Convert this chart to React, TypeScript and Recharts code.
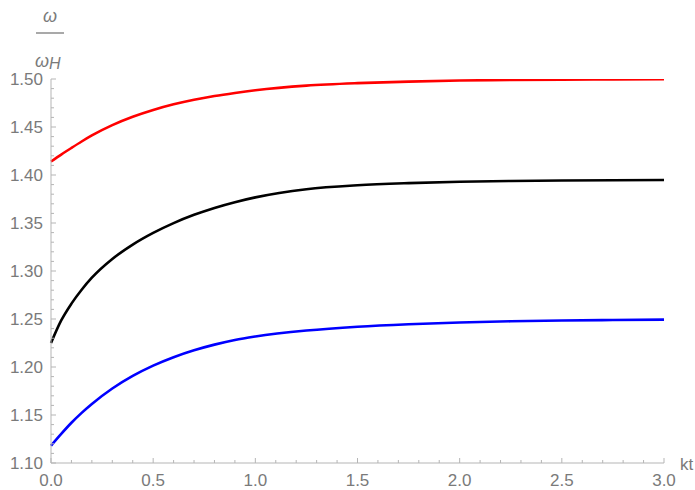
import { LineChart, Line, XAxis, YAxis, Label } from "recharts";

const kt = [0, 0.05, 0.1, 0.15, 0.2, 0.3, 0.4, 0.5, 0.6, 0.7, 0.8, 0.9, 1.0, 1.25, 1.5, 1.75, 2.0, 2.25, 2.5, 2.75, 3.0];
const redSeries = [1.414, 1.4213, 1.4282, 1.4349, 1.4412, 1.4519, 1.4606, 1.4677, 1.4736, 1.4784, 1.4823, 1.4855, 1.4883, 1.4931, 1.4957, 1.4973, 1.4984, 1.499, 1.4994, 1.4996, 1.4998];
const blackSeries = [1.225, 1.2485, 1.266, 1.2805, 1.293, 1.3125, 1.3275, 1.3397, 1.3499, 1.3585, 1.3657, 1.3717, 1.3767, 1.3852, 1.3893, 1.3915, 1.3929, 1.3937, 1.3942, 1.3946, 1.3948];
const blueSeries = [1.118, 1.1303, 1.1419, 1.1522, 1.1615, 1.1776, 1.1907, 1.2014, 1.2102, 1.2174, 1.2233, 1.2282, 1.2318, 1.238, 1.242, 1.2446, 1.2464, 1.2476, 1.2484, 1.2489, 1.2493];

const xMajorTicks = [0, 0.5, 1.0, 1.5, 2.0, 2.5, 3.0];
const yMajorTicks = [1.1, 1.15, 1.2, 1.25, 1.3, 1.35, 1.4, 1.45, 1.5];

// minor ticks every 0.1 on x and 0.01 on y
const xTicks: number[] = [];
for (let i = 0; i <= 30; i++) xTicks.push(i / 10);
const yTicks: number[] = [];
for (let i = 110; i <= 150; i++) yTicks.push(i / 100);

const data = kt.map((t, i) => ({
	kt: t,
	red: redSeries[i],
	black: blackSeries[i],
	blue: blueSeries[i],
}));

const axisColor = "#b5b5b5";
const textColor = "#7a7a7a";
const font = "'Liberation Sans', Arial, sans-serif";

const isMajor = (v: number, majors: number[]) =>
	majors.some((m) => Math.abs(m - v) < 1e-6);

function XTick(props: any) {
	const { x, y, payload } = props;
	const major = isMajor(payload.value, xMajorTicks);
	return (
		<g>
			<line x1={x} x2={x} y1={y} y2={y - (major ? 5 : 3)} stroke={axisColor} />
			{major && (
				<text x={x} y={y + 23} textAnchor="middle" fill={textColor} fontSize={17} fontFamily={font}>
					{payload.value.toFixed(1)}
				</text>
			)}
		</g>
	);
}

function YTick(props: any) {
	const { x, y, payload } = props;
	const major = isMajor(payload.value, yMajorTicks);
	return (
		<g>
			<line x1={x} x2={x + (major ? 5 : 3)} y1={y} y2={y} stroke={axisColor} />
			{major && (
				<text x={x - 8} y={y} dy="0.35em" textAnchor="end" fill={textColor} fontSize={17} fontFamily={font}>
					{payload.value.toFixed(2)}
				</text>
			)}
		</g>
	);
}

function YTitle(props: any) {
	const vb = props.viewBox;
	const cx = vb.x + vb.width - 1;
	const top = vb.y;
	return (
		<g fill={textColor} fontFamily={font} fontSize={18}>
			<text x={cx} y={top - 57} textAnchor="middle" fontStyle="italic">ω</text>
			<line x1={cx - 14} x2={cx + 14} y1={top - 46} y2={top - 46} stroke={textColor} strokeWidth={1.3} />
			<text x={cx - 15} y={top - 12} fontStyle="italic">
				ω<tspan fontSize={16} dy={2}>H</tspan>
			</text>
		</g>
	);
}

function XTitle(props: any) {
	const vb = props.viewBox;
	return (
		<text x={vb.x + vb.width + 16} y={vb.y + 7} fill={textColor} fontFamily={font} fontSize={17}>
			kt
		</text>
	);
}

export default function App() {
	return (
		<div
			style={{
				position: "fixed",
				left: 0,
				top: 0,
				width: 695,
				height: 490,
				overflow: "hidden",
				background: "#fff",
			}}
		>
			<LineChart
				width={695}
				height={490}
				data={data}
				margin={{ top: 79, right: 31, bottom: 26, left: 50 }}
			>
				<XAxis
					dataKey="kt"
					type="number"
					domain={[0, 3]}
					ticks={xTicks}
					interval={0}
					height={1}
					tickSize={0}
					tickMargin={0}
					tickLine={false}
					stroke={axisColor}
					tick={<XTick />}
				>
					<Label content={<XTitle />} />
				</XAxis>
				<YAxis
					type="number"
					domain={[1.1, 1.5]}
					allowDataOverflow
					ticks={yTicks}
					interval={0}
					width={1}
					tickSize={0}
					tickMargin={0}
					tickLine={false}
					stroke={axisColor}
					tick={<YTick />}
				>
					<Label content={<YTitle />} />
				</YAxis>
				<Line type="monotone" dataKey="red" stroke="#ff0000" strokeWidth={2.6} dot={false} isAnimationActive={false} />
				<Line type="monotone" dataKey="black" stroke="#000000" strokeWidth={2.6} dot={false} isAnimationActive={false} />
				<Line type="monotone" dataKey="blue" stroke="#0000ff" strokeWidth={2.6} dot={false} isAnimationActive={false} />
			</LineChart>
		</div>
	);
}
